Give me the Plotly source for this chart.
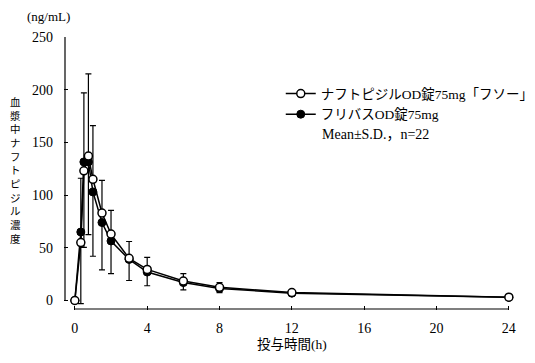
import plotly.graph_objects as go

# ---- data ----
times = [0, 0.33, 0.5, 0.75, 1, 1.5, 2, 3, 4, 6, 8, 12, 24]
fuso_mean = [0, 55, 123, 137, 115, 83, 63, 40, 29.5, 18.5, 12.5, 7.5, 3.2]
fuso_sd = [0, 61, 74, 78, 51, 31, 22.5, 16, 11.5, 7, 4.5, 2, 0.8]
flivas_mean = [0, 65, 131.5, 131.5, 103, 74, 56.5, 39, 27, 17, 11.5, 7, 3.0]
flivas_sd = [0, 68, 81, 69, 61, 45, 31, 20, 13, 7, 4, 2, 0.8]

series_names = ["ナフトピジルOD錠75mg「フソー」", "フリバスOD錠75mg"]
note_text = "Mean±S.D.，n=22"
y_title = "血漿中ナフトピジル濃度"
y_unit = "(ng/mL)"
x_title = "投与時間(h)"
x_ticks = [0, 4, 8, 12, 16, 20, 24]
y_ticks = [0, 50, 100, 150, 200, 250]

FONT = "Liberation Serif, Noto Sans CJK JP"

W, H = 535, 363
L, R = 64, 517.5
T, B = 36.5, 310.5
XMIN, XMAX = -0.6, 24.45
YMIN, YMAX = -9, 250

def px_x(p):
    return (p - L) / (R - L)

def px_y(p):
    return (B - p) / (B - T)

fig = go.Figure()

fig.add_trace(go.Scatter(
    x=times, y=flivas_mean, name=series_names[1],
    mode="lines+markers",
    line=dict(color="black", width=1.5),
    marker=dict(symbol="circle", size=8, color="black", line=dict(color="black", width=1)),
    error_y=dict(type="data", symmetric=False, array=[0] * len(times), arrayminus=flivas_sd,
                 color="black", thickness=1.2, width=3),
))
fig.add_trace(go.Scatter(
    x=times, y=fuso_mean, name=series_names[0],
    mode="lines+markers",
    line=dict(color="black", width=1.5),
    marker=dict(symbol="circle", size=8, color="white", line=dict(color="black", width=1.5)),
    error_y=dict(type="data", symmetric=False, array=fuso_sd, arrayminus=[0] * len(times),
                 color="black", thickness=1.2, width=3),
))

# detached axis lines (just inside the plot area)
fig.add_shape(type="line", xref="paper", yref="y", x0=px_x(L + 1), x1=px_x(L + 1), y0=0, y1=250,
              line=dict(color="black", width=1.2), layer="above")
fig.add_shape(type="line", xref="x", yref="paper", x0=0, x1=24, y0=px_y(B - 1), y1=px_y(B - 1),
              line=dict(color="black", width=1.2), layer="above")

annotations = []
annotations.append(dict(
    text="<br>".join(list(y_title)), xref="paper", yref="paper", x=px_x(15), y=px_y(170),
    showarrow=False, xanchor="center", yanchor="middle",
    font=dict(family=FONT, size=10.5, color="black")))
annotations.append(dict(
    text=y_unit, xref="paper", yref="paper", x=px_x(48), y=px_y(16),
    showarrow=False, xanchor="center", yanchor="middle",
    font=dict(family=FONT, size=13, color="black")))
annotations.append(dict(
    text=x_title, xref="paper", yref="paper", x=px_x(292), y=px_y(345),
    showarrow=False, xanchor="center", yanchor="middle",
    font=dict(family=FONT, size=13.5, color="black")))
annotations.append(dict(
    text=note_text, xref="paper", yref="paper", x=px_x(320), y=px_y(134),
    showarrow=False, xanchor="left", yanchor="middle",
    font=dict(family=FONT, size=14, color="black")))

fig.update_layout(
    width=W, height=H,
    margin=dict(l=L, r=W - R, t=T, b=H - B, autoexpand=False),
    paper_bgcolor="white", plot_bgcolor="white",
    font=dict(family=FONT, size=14, color="black"),
    showlegend=True,
    legend=dict(x=px_x(281), y=px_y(78), xanchor="left", yanchor="top",
                traceorder="reversed", bgcolor="rgba(0,0,0,0)",
                font=dict(family=FONT, size=13.5, color="black"),
                tracegroupgap=0, itemwidth=30),
    xaxis=dict(range=[XMIN, XMAX], tickvals=x_ticks, ticktext=[str(v) for v in x_ticks],
               ticks="inside", ticklen=4, tickwidth=1, tickcolor="black",
               showline=False, showgrid=False, zeroline=False, automargin=False,
               ticklabelstandoff=8, tickfont=dict(family=FONT, size=14)),
    yaxis=dict(range=[YMIN, YMAX], tickvals=y_ticks, ticktext=[str(v) for v in y_ticks],
               ticks="inside", ticklen=4, tickwidth=1, tickcolor="black",
               showline=False, showgrid=False, zeroline=False, automargin=False,
               ticklabelstandoff=10, tickfont=dict(family=FONT, size=14)),
    annotations=annotations,
)

fig.write_html("out.html", config={"displayModeBar": False, "staticPlot": True},
               post_script="document.body.style.margin='0';")
